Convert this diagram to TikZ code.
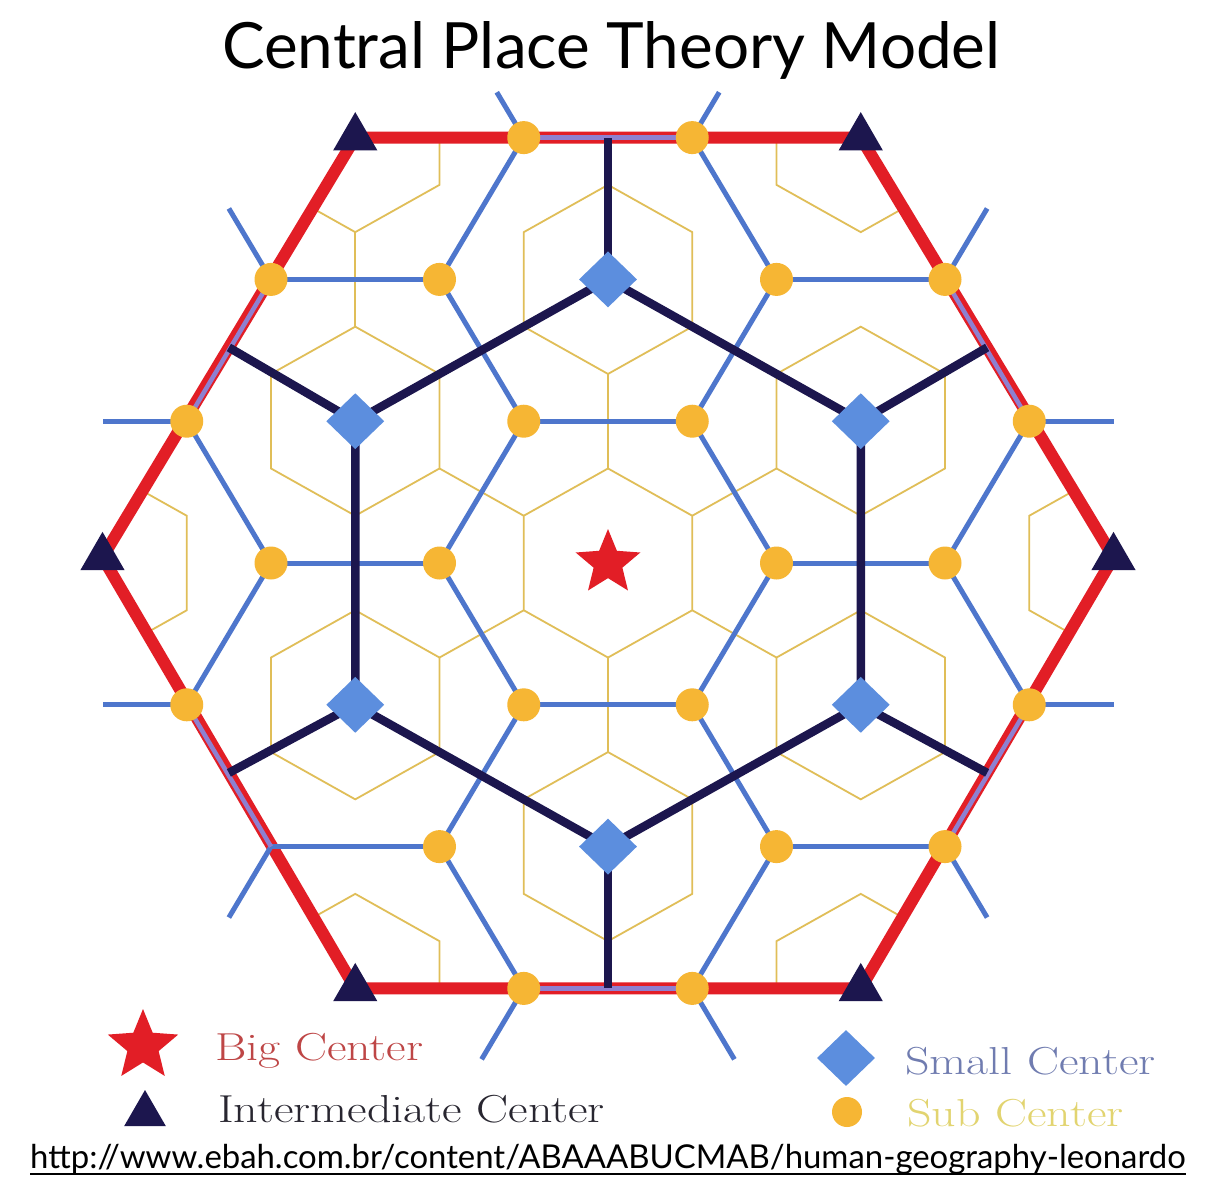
\documentclass[tikz,border=0pt]{standalone}
\usepackage{fontspec}
\usepackage{graphicx}
\newfontfamily\titlefont{Lato}
\usetikzlibrary{shapes.geometric,calc}
\definecolor{cpred}{RGB}{226,30,38}
\definecolor{cpnavy}{RGB}{28,22,78}
\definecolor{cpblue}{RGB}{78,118,204}
\definecolor{cppurple}{RGB}{142,128,208}
\definecolor{cpdiam}{RGB}{92,142,222}
\definecolor{cporange}{RGB}{246,182,52}
\definecolor{cpyellow}{RGB}{224,190,88}
\definecolor{cptbig}{RGB}{190,70,70}
\definecolor{cptint}{RGB}{40,38,48}
\definecolor{cptsmall}{RGB}{112,124,176}
\definecolor{cptsub}{RGB}{226,212,112}
\tikzset{
  redline/.style={draw=cpred, line width=12pt, line join=round},
  navyline/.style={draw=cpnavy, line width=8.5pt, line join=round},
  blueline/.style={draw=cpblue, line width=5pt},
  purpleline/.style={draw=cppurple, line width=4.5pt},
  yline/.style={draw=cpyellow, line width=1.8pt, line join=miter},
  subc/.style={circle, fill=cporange, minimum size=33pt, inner sep=0pt},
  smallc/.style={diamond, fill=cpdiam, minimum width=58pt, minimum height=56pt, inner sep=0pt},
  interc/.style={regular polygon, regular polygon sides=3, fill=cpnavy, minimum size=51pt, inner sep=0pt},
  bigc/.style={star, star points=5, star point ratio=2.25, fill=cpred, minimum size=68pt, inner sep=0pt},
  legtext/.style={anchor=base west, inner sep=0pt, font=\fontsize{39}{39}\selectfont},
}
\newcommand{\yhex}[1]{\draw[yline, shift={(#1)}] (0,-0.6667) -- (0.5,-0.3333) -- (0.5,0.3333) -- (0,0.6667) -- (-0.5,0.3333) -- (-0.5,-0.3333) -- cycle;}
\newcommand{\legstretch}[1]{\scalebox{1.23}[1]{#1}}
\begin{document}
\begin{tikzpicture}[x=1pt, y=-1pt]
\fill[white] (0,0) rectangle (1212,1200);
\useasboundingbox (0,0) rectangle (1212,1200);

\begin{scope}[shift={(608pt,-563pt)}, x=168.5pt, y=-141.8pt]
% lattice points
\coordinate (O) at (0,0);
\coordinate (dT) at (0,-2);   \coordinate (dTR) at (1.5,-1); \coordinate (dBR) at (1.5,1);
\coordinate (dB) at (0,2);    \coordinate (dBL) at (-1.5,1); \coordinate (dTL) at (-1.5,-1);
\coordinate (tTL) at (-1.5,-3); \coordinate (tTR) at (1.5,-3); \coordinate (tR) at (3,-0.04);
\coordinate (tBR) at (1.5,3);   \coordinate (tBL) at (-1.5,3); \coordinate (tL) at (-3,-0.04);
\coordinate (cR) at (3,0); \coordinate (cL) at (-3,0);
\coordinate (mT) at (0,-3); \coordinate (mTR) at (2.25,-1.52); \coordinate (mBR) at (2.25,1.48);
\coordinate (mB) at (0,3);  \coordinate (mBL) at (-2.25,1.48); \coordinate (mTL) at (-2.25,-1.52);
\coordinate (sA) at (-0.5,-3); \coordinate (sB) at (0.5,-3);
\coordinate (sC) at (-2,-2); \coordinate (sD) at (-1,-2); \coordinate (sE) at (1,-2); \coordinate (sF) at (2,-2);
\coordinate (sG) at (-2.5,-1); \coordinate (sH) at (-0.5,-1); \coordinate (sI) at (0.5,-1); \coordinate (sJ) at (2.5,-1);
\coordinate (sK) at (-2,0); \coordinate (sL) at (-1,0); \coordinate (sM) at (1,0); \coordinate (sN) at (2,0);
\coordinate (sO) at (-2.5,1); \coordinate (sP) at (-0.5,1); \coordinate (sQ) at (0.5,1); \coordinate (sR) at (2.5,1);
\coordinate (sS) at (-2,2); \coordinate (sT) at (-1,2); \coordinate (sU) at (1,2); \coordinate (sV) at (2,2);
\coordinate (sW) at (-0.5,3); \coordinate (sX) at (0.5,3);
% stub ends
\coordinate (eA) at (-0.66,-3.32); \coordinate (eB) at (0.66,-3.32);
\coordinate (eC) at (-2.25,-2.5); \coordinate (eF) at (2.25,-2.5);
\coordinate (eG) at (-3,-1); \coordinate (eJ) at (3,-1);
\coordinate (eO) at (-3,1); \coordinate (eR) at (3,1);
\coordinate (eS) at (-2.25,2.5); \coordinate (eV) at (2.25,2.5);
\coordinate (eW) at (-0.75,3.5); \coordinate (eX) at (0.75,3.5);

% yellow market areas
\begin{scope}
\clip (tTL) -- (tTR) -- (tR) -- (tBR) -- (tBL) -- (tL) -- cycle;
\yhex{O}
\yhex{dT} \yhex{dTR} \yhex{dBR} \yhex{dB} \yhex{dBL} \yhex{dTL}
\yhex{tTL} \yhex{tTR} \yhex{cR} \yhex{tBR} \yhex{tBL} \yhex{cL}
\foreach \d in {dT,dTR,dBR,dB,dBL,dTL}{
  \draw[yline] ($(O)!0.3333!(\d)$) -- ($(O)!0.6667!(\d)$);
}
\draw[yline] ($(tTL)+(0,0.6667)$) -- ($(dTL)+(0,-0.6667)$);
\end{scope}

% red hexagon
\draw[redline] (tTL) -- (tTR) -- (tR) -- (tBR) -- (tBL) -- (tL) -- cycle;

% blue network
\foreach \a/\b in {sC/sD, sE/sF, sD/sA, sE/sB, sD/sH, sE/sI, sH/sI, sG/sK, sH/sL, sI/sM, sJ/sN,
  sK/sL, sM/sN, sK/sO, sL/sP, sM/sQ, sN/sR, sP/sQ, sP/sT, sQ/sU, sS/sT, sU/sV, sT/sW, sU/sX,
  sA/eA, sB/eB, sC/eC, sF/eF, sG/eG, sJ/eJ, sO/eO, sR/eR, sS/eS, sV/eV, sW/eW, sX/eX}{
  \draw[blueline] (\a) -- (\b);
}
\foreach \a/\b in {sA/sB, sF/sJ, sR/sV, sW/sX, sS/sO, sG/sC}{
  \draw[purpleline] (\a) -- (\b);
}

% navy network
\draw[navyline] (dT) -- (dTR) -- (dBR) -- (dB) -- (dBL) -- (dTL) -- cycle;
\foreach \a/\b in {dT/mT, dTR/mTR, dBR/mBR, dB/mB, dBL/mBL, dTL/mTL}{
  \draw[navyline] (\a) -- (\b);
}

% markers
\foreach \s in {sA,sB,sC,sD,sE,sF,sG,sH,sI,sJ,sK,sL,sM,sN,sO,sP,sQ,sR,sT,sU,sV,sW,sX}{
  \node[subc] (n\s) at (\s) {};
}
\foreach \d in {dT,dTR,dBR,dB,dBL,dTL}{
  \node[smallc] (n\d) at (\d) {};
}
\foreach \t in {tTL,tTR,tR,tBR,tBL,tL}{
  \node[interc] (n\t) at (\t) {};
}
\node[bigc] (nO) at (O) {};
\end{scope}

% title
\node[anchor=base west, inner sep=0pt] (title) at (222,68)
  {\resizebox{778pt}{!}{\titlefont Central Place Theory Model}};

% legend
\node[bigc, minimum size=74pt] (lstar) at (143,1046) {};
\node[interc, minimum size=48pt] (ltri) at (145,1114) {};
\node[smallc] (ldiam) at (846,1058) {};
\node[subc, minimum size=30pt] (ldot) at (847,1112) {};
\node[legtext, text=cptbig] (tbig) at (215,1060) {\legstretch{Big Center}};
\node[legtext, text=cptint] (tint) at (218,1122) {\legstretch{Intermediate Center}};
\node[legtext, text=cptsmall] (tsmall) at (905,1074) {\legstretch{Small Center}};
\node[legtext, text=cptsub] (tsub) at (907,1126) {\legstretch{Sub Center}};

% source url
\node[anchor=base west, inner sep=0pt] (url) at (30,1168)
  {\resizebox{1155pt}{!}{\titlefont http://www.ebah.com.br/content/ABAAABUCMAB/human-geography-leonardo}};
\draw[line width=2pt, black] ([yshift=-6pt]url.base west) -- ([yshift=-6pt]url.base east);
\end{tikzpicture}
\end{document}
